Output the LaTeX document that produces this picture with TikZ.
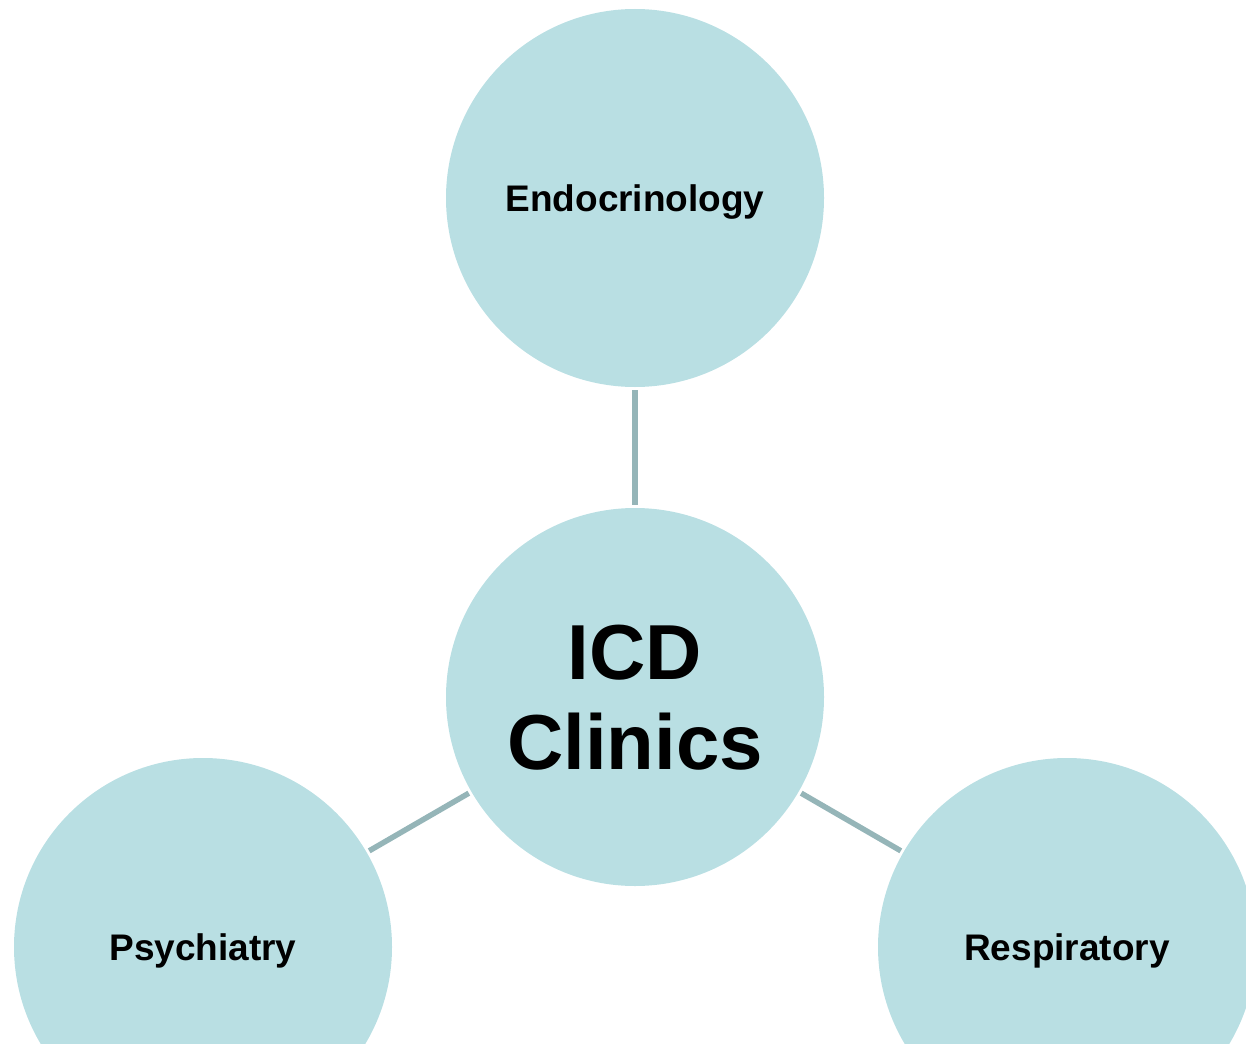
\documentclass[tikz,border=0pt]{standalone}
\usepackage{fontspec}
\setmainfont{Liberation Sans}
\usepackage{tikz}

\definecolor{clinicfill}{HTML}{B9DFE3}
\definecolor{clinicline}{HTML}{95B5B8}

\tikzset{
  clinic/.style={circle, fill=clinicfill, minimum size=378pt, inner sep=0pt,
    outer sep=3pt, font=\fontsize{37}{43}\selectfont\bfseries, align=center,
    text height=35pt},
  hub/.style={clinic, font=\fontsize{78}{90}\selectfont\bfseries,
    text height=, text depth=-8pt},
  link/.style={draw=clinicline, line width=5.5pt}
}

\begin{document}
\begin{tikzpicture}[x=1pt,y=-1pt]
\useasboundingbox (0,0) rectangle (1246,1043);

\node[hub] (icd) at (635,697) {ICD\\Clinics};
\node[clinic] (endo) at (635,198) {Endocrinology};
\node[clinic] (psych) at (203,947) {Psychiatry};
\node[clinic] (resp) at (1067,947) {Respiratory};

\draw[link] (endo) -- (icd);
\draw[link] (icd) -- (psych);
\draw[link] (icd) -- (resp);

\end{tikzpicture}
\end{document}
